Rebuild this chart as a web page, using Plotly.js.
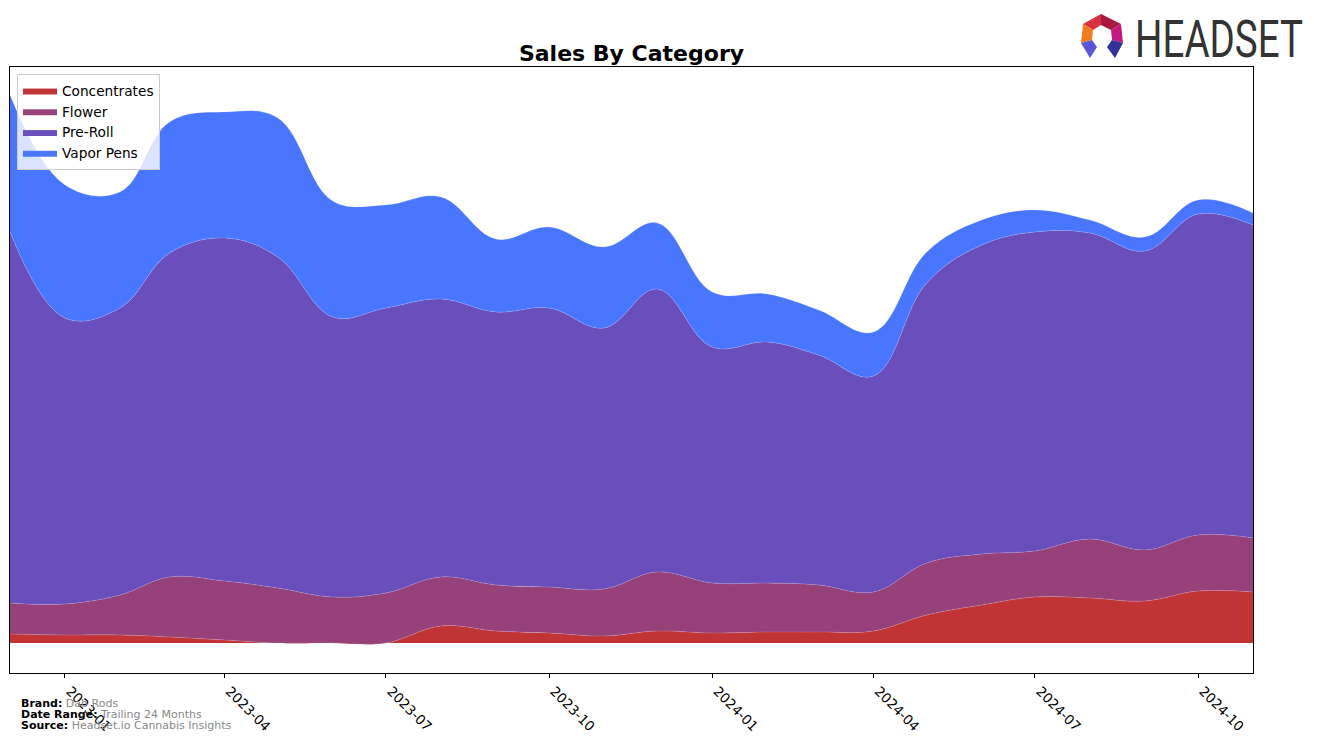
<!DOCTYPE html>
<html>
<head>
<meta charset="utf-8">
<script src="https://cdn.plot.ly/plotly-3.0.1.min.js"></script>
<style>
  html, body { margin: 0; padding: 0; background: #fff; }
  #chart { width: 1317px; height: 743px; }
</style>
</head>
<body>
<div id="chart"></div>
<script>
// ---- data ----
const months = ["2022-12-01","2023-01-01","2023-02-01","2023-03-01","2023-04-01","2023-05-01",
  "2023-06-01","2023-07-01","2023-08-01","2023-09-01","2023-10-01","2023-11-01",
  "2023-12-01","2024-01-01","2024-02-01","2024-03-01","2024-04-01","2024-05-01",
  "2024-06-01","2024-07-01","2024-08-01","2024-09-01","2024-10-01","2024-11-01"];
const concentrates = [9, 8, 8, 6, 3, 0, 0, 0, 17, 12, 10, 7, 12, 10, 11, 11, 12, 28, 38, 46, 45, 42, 52, 51];
const flower       = [31, 31, 40, 60, 59, 55, 46, 50, 49, 46, 46, 47, 59, 50, 49, 47, 39, 52, 51, 46, 59, 51, 56, 54];
const preRoll      = [371, 286, 287, 324, 343, 331, 280, 285, 278, 273, 279, 261, 283, 236, 241, 230, 216, 280, 309, 319, 306, 299, 321, 313];
const vaporPens    = [137, 133, 116, 131, 126, 139, 116, 103, 102, 73, 81, 81, 66, 55, 48, 45, 44, 31, 25, 22, 13, 14, 14, 12];
const tickVals = ["2023-01-01","2023-04-01","2023-07-01","2023-10-01","2024-01-01","2024-04-01","2024-07-01","2024-10-01"];
const tickText = ["2023-01","2023-04","2023-07","2023-10","2024-01","2024-04","2024-07","2024-10"];

const seriesNames = ["Concentrates", "Flower", "Pre-Roll", "Vapor Pens"];
const seriesData = [concentrates, flower, preRoll, vaporPens];
const seriesColors = ["#c13435", "#96417a", "#6a4fbc", "#4876ff"];

const traces = seriesNames.map((n, i) => ({
  type: "scatter",
  mode: "lines",
  name: n,
  x: months,
  y: seriesData[i],
  stackgroup: "one",
  fillcolor: seriesColors[i],
  line: { shape: "spline", smoothing: 1.1, width: 0.6, color: "rgba(255,255,255,0.25)" },
  hoverinfo: "skip"
}));

// layout helpers (pixel -> paper)
const L = 10, R = 1253, T = 67, B = 673;
const px = v => (v - L) / (R - L);
const py = v => (B - v) / (B - T);
function poly(pts, color) {
  const d = "M" + pts.map(p => px(p[0]) + "," + py(p[1])).join(" L") + " Z";
  return { type: "path", xref: "paper", yref: "paper", path: d, fillcolor: color, line: { width: 0 }, layer: "above" };
}

const shapes = [
  poly([[1083,24],[1101,14],[1101,25],[1093,30]], "#d9303f"),
  poly([[1101,14],[1121,24],[1111,30],[1101,25]], "#a8173f"),
  poly([[1083,24],[1093,30],[1092,40],[1081,43]], "#f47a22"),
  poly([[1121,24],[1123,43],[1112,40],[1111,30]], "#c01a7e"),
  poly([[1081,43],[1092,40],[1097,47],[1090,58]], "#5a56d6"),
  poly([[1123,43],[1112,40],[1107,47],[1115,58]], "#33309a")
];

const annotations = [
  { text: "<b>Brand:</b> <span style='color:#888'>Dab Rods</span>", x: px(19), y: py(703) },
  { text: "<b>Date Range:</b> <span style='color:#888'>Trailing 24 Months</span>", x: px(19), y: py(714) },
  { text: "<b>Source:</b> <span style='color:#888'>Headset.io Cannabis Insights</span>", x: px(19), y: py(725) }
].map(a => Object.assign({
  xref: "paper", yref: "paper", xanchor: "left", yanchor: "middle", showarrow: false,
  font: { family: "DejaVu Sans", size: 11, color: "#000" }
}, a));
annotations.push({
  text: "HEADSET", xref: "paper", yref: "paper", x: px(1133), y: py(39),
  xanchor: "left", yanchor: "middle", showarrow: false,
  font: { family: "Roboto, sans-serif", size: 51, color: "#333333" }
});

const layout = {
  width: 1317, height: 743,
  margin: { l: L, r: 1317 - R, t: T, b: 743 - B, pad: 0 },
  paper_bgcolor: "#ffffff",
  plot_bgcolor: "#ffffff",
  font: { family: "DejaVu Sans", color: "#000" },
  title: {
    text: "<b>Sales By Category</b>",
    font: { family: "DejaVu Sans", size: 22, color: "#000" },
    x: 0.5, xref: "paper", xanchor: "center",
    y: 1 - 53 / 743, yref: "container", yanchor: "middle"
  },
  showlegend: true,
  legend: {
    x: px(17), y: py(74), xanchor: "left", yanchor: "top",
    traceorder: "normal",
    bgcolor: "rgba(255,255,255,0.8)", bordercolor: "#cccccc", borderwidth: 1,
    font: { family: "DejaVu Sans", size: 13.7, color: "#000" },
    itemwidth: 34, tracegroupgap: 0
  },
  xaxis: {
    type: "date",
    range: ["2022-12-01", "2024-11-01"],
    tickvals: tickVals, ticktext: tickText,
    tickangle: 45,
    ticklabelshift: 5,
    ticks: "outside", ticklen: 4, tickwidth: 1, tickcolor: "#000",
    tickfont: { family: "DejaVu Sans", size: 13.5, color: "#000" },
    showgrid: false, zeroline: false,
    showline: true, linecolor: "#000", linewidth: 1, mirror: true
  },
  yaxis: {
    range: [-30, 576],
    showticklabels: false, ticks: "",
    showgrid: false, zeroline: false,
    showline: true, linecolor: "#000", linewidth: 1, mirror: true
  },
  shapes: shapes,
  annotations: annotations
};

Plotly.newPlot("chart", traces, layout, { staticPlot: true, displayModeBar: false }).then(() => {
  // condense the logo word horizontally to fit its box
  const t = Array.from(document.querySelectorAll(".annotation-text")).find(e => e.textContent === "HEADSET");
  if (t) {
    const bb = t.getBBox();
    const sx = 168 / bb.width;
    const x0 = bb.x;
    t.setAttribute("transform", `translate(${x0},0) scale(${sx},1) translate(${-x0},0)`);
  }
});
</script>
</body>
</html>
